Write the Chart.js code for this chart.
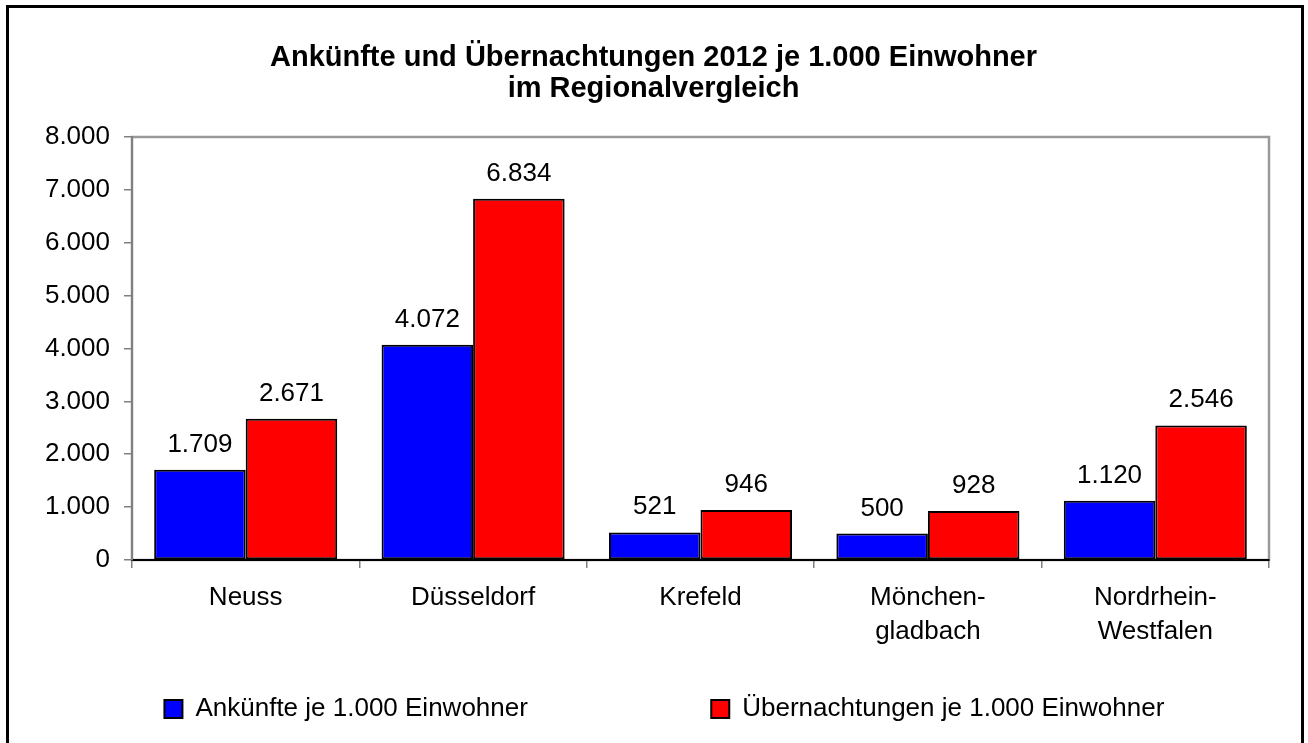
<!DOCTYPE html>
<html lang="de">
<head>
<meta charset="utf-8">
<title>Ankünfte und Übernachtungen 2012 je 1.000 Einwohner</title>
<script src="https://cdn.jsdelivr.net/npm/chart.js@4.4.1/dist/chart.umd.min.js"></script>
<style>
    html, body { margin: 0; padding: 0; background: #fff; }
    #wrap { width: 1308px; height: 743px; }
</style>
</head>
<body>
<div id="wrap"><canvas id="regionChart" width="1308" height="743"></canvas></div>
<script>
// Daten aus der Grafik
const regionen = ['Neuss', 'Düsseldorf', 'Krefeld', ['Mönchen-', 'gladbach'], ['Nordrhein-', 'Westfalen']];
const ankuenfte = [1709, 4072, 521, 500, 1120];
const uebernachtungen = [2671, 6834, 946, 928, 2546];
const yTickWerte = [0, 1000, 2000, 3000, 4000, 5000, 6000, 7000, 8000];

const PAD_LEFT = 38;

Chart.defaults.font.family = '"Liberation Sans", Arial, sans-serif';
Chart.defaults.color = '#000';

// Tausenderpunkt wie im Original
function formatDE(v) {
    return String(v).replace(/\B(?=(\d{3})+(?!\d))/g, '.');
}

// Hintergrund, Außenrahmen und Rahmen der Zeichenfläche
const rahmenPlugin = {
    id: 'rahmen',
    beforeDraw(chart) {
        const { ctx, chartArea: a } = chart;
        ctx.save();
        ctx.fillStyle = '#fff';
        ctx.fillRect(0, 0, chart.width, chart.height);
        ctx.strokeStyle = '#000';
        ctx.lineWidth = 3;
        ctx.strokeRect(7.5, 6.5, 1295, 760);
        ctx.strokeStyle = '#999';
        ctx.lineWidth = 2.5;
        ctx.strokeRect(a.left, a.top, a.right - a.left, a.bottom - a.top);
        ctx.restore();
    }
};

// Werte über den Balken
const wertePlugin = {
    id: 'werte',
    afterDatasetsDraw(chart) {
        const ctx = chart.ctx;
        ctx.save();
        ctx.font = '26px "Liberation Sans", Arial, sans-serif';
        ctx.fillStyle = '#000';
        ctx.textAlign = 'center';
        ctx.textBaseline = 'alphabetic';
        chart.data.datasets.forEach((ds, i) => {
            chart.getDatasetMeta(i).data.forEach((bar, j) => {
                ctx.fillText(formatDE(ds.data[j]), bar.x, bar.y - 18);
            });
        });
        ctx.restore();
    }
};

new Chart(document.getElementById('regionChart'), {
    type: 'bar',
    data: {
        labels: regionen,
        datasets: [{
            label: 'Ankünfte je 1.000 Einwohner',
            data: ankuenfte,
            backgroundColor: '#0000ff',
            borderColor: '#000',
            borderWidth: 2,
            borderSkipped: false
        }, {
            label: 'Übernachtungen je 1.000 Einwohner',
            data: uebernachtungen,
            backgroundColor: '#ff0000',
            borderColor: '#000',
            borderWidth: 2,
            borderSkipped: false
        }]
    },
    options: {
        responsive: false,
        animation: false,
        layout: {
            padding: { left: PAD_LEFT, right: 39, top: 0, bottom: 11 }
        },
        datasets: {
            bar: { categoryPercentage: 0.805, barPercentage: 1 }
        },
        scales: {
            x: {
                grid: {
                    drawOnChartArea: false,
                    tickLength: 8,
                    color: '#808080',
                    lineWidth: 1.5,
                    offset: true
                },
                border: { color: '#000', width: 2 },
                ticks: {
                    color: '#000',
                    padding: 13,
                    maxRotation: 0,
                    autoSkip: false,
                    font: { size: 26, lineHeight: 1.3 }
                },
                afterFit: scale => { scale.height = 126; }
            },
            y: {
                min: yTickWerte[0],
                max: yTickWerte[yTickWerte.length - 1],
                grid: {
                    drawOnChartArea: false,
                    tickLength: 8,
                    color: '#808080',
                    lineWidth: 1.5
                },
                border: { color: '#808080', width: 2 },
                ticks: {
                    color: '#000',
                    padding: 14,
                    font: { size: 26 },
                    callback: v => formatDE(v)
                },
                afterBuildTicks: scale => {
                    scale.ticks = yTickWerte.map(v => ({ value: v }));
                },
                afterFit: scale => { scale.width = 132 - PAD_LEFT; }
            }
        },
        plugins: {
            title: {
                display: true,
                text: ['Ankünfte und Übernachtungen 2012 je 1.000 Einwohner', 'im Regionalvergleich'],
                color: '#000',
                font: { size: 29, weight: 'bold', lineHeight: 1.086 },
                padding: { top: 42, bottom: 32 }
            },
            legend: {
                position: 'bottom',
                fullSize: false,
                labels: {
                    color: '#000',
                    font: { size: 26 },
                    boxWidth: 18,
                    boxHeight: 18,
                    padding: 10,
                    generateLabels: chart => {
                        const items = Chart.defaults.plugins.legend.labels.generateLabels(chart);
                        // großer Abstand zwischen den beiden Einträgen wie im Original
                        items[0].text += '\u00a0'.repeat(24);
                        items[1].text += '\u00a0'.repeat(10);
                        return items;
                    }
                }
            },
            tooltip: { enabled: false }
        }
    },
    plugins: [rahmenPlugin, wertePlugin]
});
</script>
</body>
</html>
